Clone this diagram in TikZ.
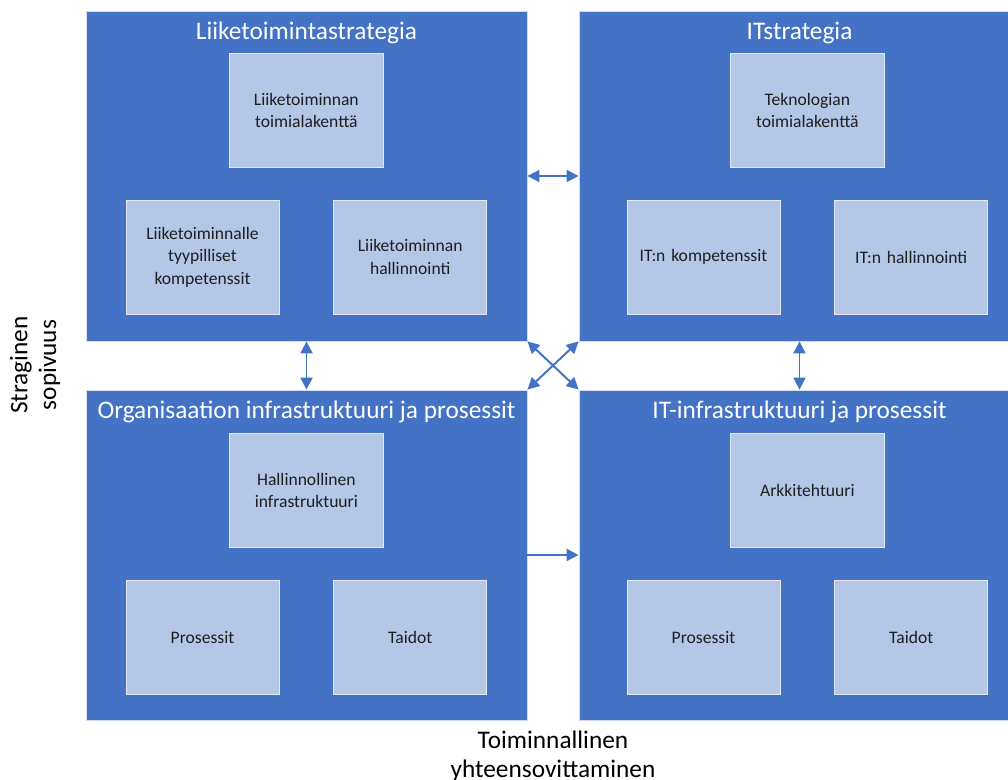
\documentclass[tikz,border=0pt]{standalone}
\usepackage{fontspec}
\setmainfont{Carlito}
\usetikzlibrary{positioning, calc, arrows.meta}
\definecolor{areablue}{HTML}{4472C4}
\definecolor{itemblue}{HTML}{B4C7E7}
\definecolor{itemtext}{HTML}{1E1E1E}

\begin{document}
\begin{tikzpicture}[
        x=0.025cm, y=-0.025cm,
        every node/.style={font=\fontsize{12.5}{16}\selectfont},
        area/.style={draw=white!75!areablue, fill=areablue, line width=0.5pt,
                     minimum width=11.025cm, minimum height=8.25cm, inner sep=0pt},
        areatitle/.style={text=white, font=\fontsize{18}{21}\selectfont},
        item/.style={draw=white!60!itemblue, fill=itemblue, line width=0.5pt,
                     text=itemtext, align=center, text width=3.6cm,
                     minimum width=3.825cm, minimum height=2.85cm, inner sep=0pt},
        side/.style={font=\fontsize{18}{20.5}\selectfont, align=center},
        link/.style={{Triangle[length=8.5pt,width=8.5pt]}-{Triangle[length=8.5pt,width=8.5pt]},
                     line width=1.4pt, draw=areablue},
        flow/.style={-{Triangle[length=8.5pt,width=8.5pt]}, line width=1.4pt, draw=areablue}
    ]
    \useasboundingbox (0,0) rectangle (1008,780);

    % --- Areas ---
    \node[area] (LT) at (306.5,176) {};
    \node[area] (RT) at (799.5,176) {};
    \node[area] (LB) at (306.5,555) {};
    \node[area] (RB) at (799.5,555) {};

    \node[areatitle] (LTt) at ([yshift=-0.55cm]LT.north) {Liiketoimintastrategia};
    \node[areatitle] (RTt) at ([yshift=-0.55cm]RT.north) {ITstrategia};
    \node[areatitle] (LBt) at ([yshift=-0.55cm]LB.north) {Organisaation infrastruktuuri ja prosessit};
    \node[areatitle] (RBt) at ([yshift=-0.55cm]RB.north) {IT-infrastruktuuri ja prosessit};

    % --- Business strategy ---
    \node[item, above right=0.675cm and 1cm of LT.south west] (LTa) {Liiketoiminnalle\\tyypilliset\\kompetenssit};
    \node[item, right=1.35cm of LTa] (LTb) {Liiketoiminnan\\hallinnointi};
    \coordinate (LTmid) at ($(LTa.north)!0.5!(LTb.north)$);
    \node[item, above=0.8cm of LTmid] (LTc) {Liiketoiminnan\\toimialakenttä};

    % --- IT strategy ---
    \node[item, above right=0.675cm and 1.2cm of RT.south west] (RTa) {IT:n kompetenssit};
    \node[item, right=1.35cm of RTa] (RTb) {IT:n hallinnointi};
    \coordinate (RTmid) at ($(RTa.north)!0.5!(RTb.north)$);
    \node[item, above=0.8cm of RTmid] (RTc) {Teknologian\\toimialakenttä};

    % --- Organisation infrastructure ---
    \node[item, above right=0.65cm and 1cm of LB.south west] (LBa) {Prosessit};
    \node[item, right=1.35cm of LBa] (LBb) {Taidot};
    \coordinate (LBmid) at ($(LBa.north)!0.5!(LBb.north)$);
    \node[item, above=0.8cm of LBmid] (LBc) {Hallinnollinen\\infrastruktuuri};

    % --- IT infrastructure ---
    \node[item, above right=0.65cm and 1.2cm of RB.south west] (RBa) {Prosessit};
    \node[item, right=1.35cm of RBa] (RBb) {Taidot};
    \coordinate (RBmid) at ($(RBa.north)!0.5!(RBb.north)$);
    \node[item, above=0.8cm of RBmid] (RBc) {Arkkitehtuuri};

    % --- Axis labels ---
    \node[side, rotate=90] (fit) at (35,365) {Straginen\\sopivuus};
    \node[side] (integ) at (553,756) {Toiminnallinen\\yhteensovittaminen};

    % --- Arrows ---
    \draw[link] (LT.east) -- (RT.west);
    \draw[link] (LT.south) -- (LB.north);
    \draw[link] (RT.south) -- (RB.north);
    \draw[link] (LT.south east) -- (RB.north west);
    \draw[link] (RT.south west) -- (LB.north east);
    \draw[flow] (LB.east) -- (RB.west);

\end{tikzpicture}
\end{document}
